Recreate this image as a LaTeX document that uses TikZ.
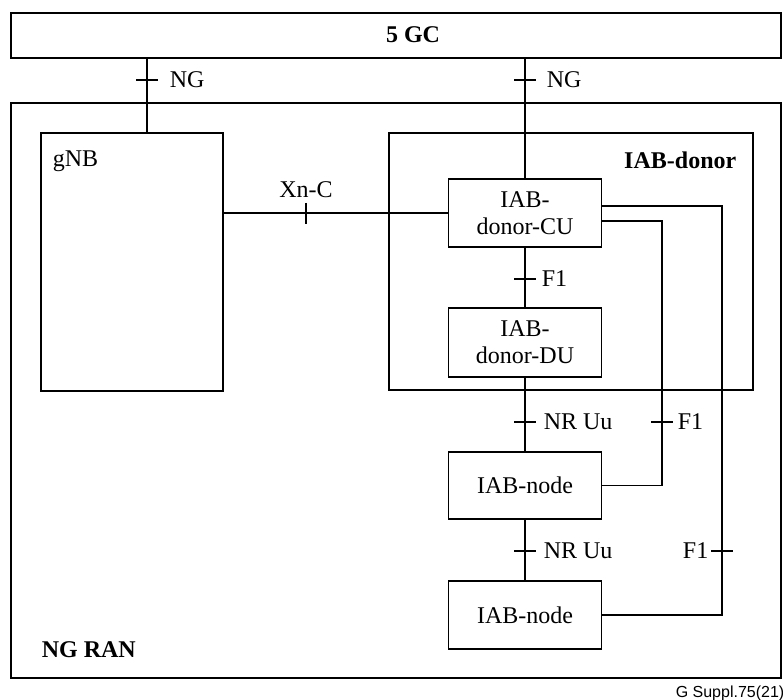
\documentclass[tikz,border=0pt]{standalone}
\usepackage{fontspec}
\setmainfont{Liberation Serif}
\newfontfamily\arialf{Liberation Sans}
\begin{document}
\begin{tikzpicture}[x=1pt,y=-1pt,
  font=\fontsize{24}{27}\selectfont,
  line width=1.5pt,
  box/.style={draw, line width=1.5pt, inner sep=0pt, align=center, text width=#1},
  frame/.style={draw, line width=1.5pt, inner sep=0pt},
  lab/.style={inner sep=0pt},
  tk/.style={line width=1.5pt}]
\useasboundingbox (0,0) rectangle (783,700);
% frames
\node[frame, minimum width=770pt, minimum height=45pt] (gc) at (396,35.5) {};
\node[lab, anchor=base] (gcl) at (413,43) {\bfseries 5 GC};
\node[frame, minimum width=770pt, minimum height=575pt] (ran) at (396,390.5) {};
\node[lab, anchor=base west] (ranl) at (41,657) {\bfseries NG RAN};
\node[frame, minimum width=182pt, minimum height=258pt] (gnb) at (132,262) {};
\node[lab, anchor=base west] (gnbl) at (52,167) {gNB};
\node[frame, minimum width=364pt, minimum height=257pt] (donor) at (571,261.5) {};
\node[lab, anchor=base east] (donorl) at (737,169) {\bfseries IAB-donor};
% inner boxes
\node[box=153pt, minimum width=153pt, minimum height=68pt] (cu) at (525,213) {IAB-\\donor-CU};
\node[box=153pt, minimum width=153pt, minimum height=69pt] (du) at (525,342.5) {IAB-\\donor-DU};
\node[box=153pt, minimum width=153pt, minimum height=67pt] (n1) at (525,485.5) {IAB-node};
\node[box=153pt, minimum width=153pt, minimum height=68pt] (n2) at (525,615) {IAB-node};
% connectors
\coordinate (ngx) at (147,0);
\draw (gc.south -| ngx) -- (gnb.north -| ngx);
\draw (gc.south -| cu.north) -- (cu.north);
\draw (gnb.east |- cu.west) -- (cu.west);
\draw (cu) -- (du);
\draw (du) -- (n1);
\draw (n1) -- (n2);
\coordinate (f1o) at (722,0);
\coordinate (f1i) at (662,0);
\draw ([yshift=7pt]cu.east) -| (f1o |- n2.east) -- (n2.east);
\draw ([yshift=-8pt]cu.east) -| (f1i |- n1.east) -- (n1.east);
% ticks and labels
\coordinate (t1) at (147,80);
\coordinate (t2) at (525,80);
\coordinate (t3) at (306,213);
\coordinate (t4) at (525,279);
\coordinate (t5) at (525,422);
\coordinate (t6) at (662,422);
\coordinate (t7) at (525,551);
\coordinate (t8) at (722,551);
\foreach \t in {t1,t2,t4,t5,t6,t7,t8}
  \draw[tk] ([xshift=-11pt]\t) -- ([xshift=11pt]\t);
\draw[tk] ([yshift=10pt]t3) -- ([yshift=-11pt]t3);
\node[lab, anchor=west] (l1) at ([xshift=22pt]t1) {NG};
\node[lab, anchor=west] (l2) at ([xshift=21pt]t2) {NG};
\node[lab, anchor=south] (l3) at ([yshift=15pt]t3) {Xn-C};
\node[lab, anchor=west] (l4) at ([xshift=16pt]t4) {F1};
\node[lab, anchor=west] (l5) at ([xshift=18pt]t5) {NR Uu};
\node[lab, anchor=west] (l6) at ([xshift=15pt]t6) {F1};
\node[lab, anchor=west] (l7) at ([xshift=18pt]t7) {NR Uu};
\node[lab, anchor=east] (l8) at ([xshift=-13pt]t8) {F1};
\node[lab, anchor=base west] (fig) at (675,697) {\arialf\fontsize{16}{18}\selectfont G Suppl.75(21)};
\end{tikzpicture}
\end{document}
